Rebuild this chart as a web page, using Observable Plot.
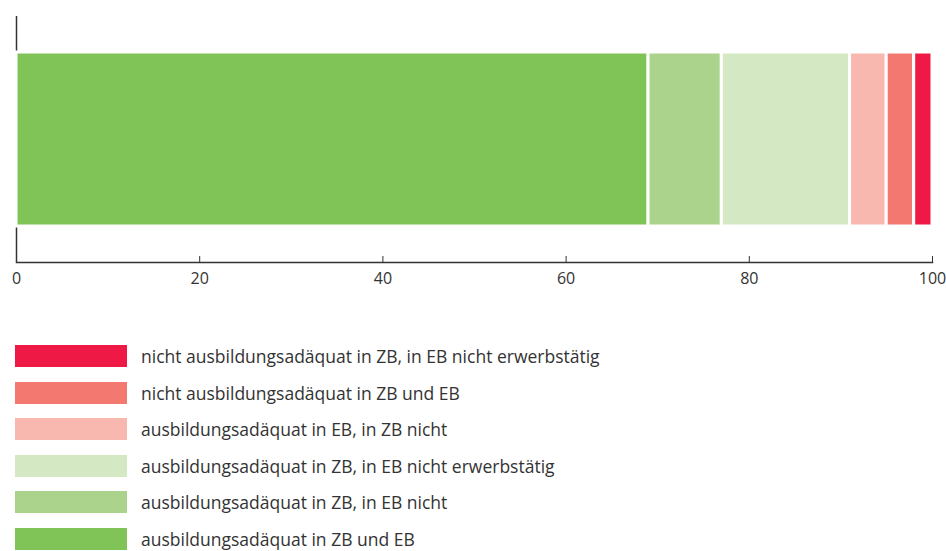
<!DOCTYPE html>
<html><head><meta charset="utf-8">
<script src="https://cdn.jsdelivr.net/npm/d3@7"></script>
<script src="https://cdn.jsdelivr.net/npm/@observablehq/plot@0.6"></script>
<style>
body{margin:0;background:#fff;font-family:"Open Sans",sans-serif;color:#333;}
#legend{margin-top:38px;}
.row{display:flex;align-items:center;height:36.5px;}
.row .sw{width:112px;height:22px;margin-left:15px;margin-right:14px;flex:none;}
.row .lb{font-size:17.5px;color:#333;line-height:22px;}
</style></head>
<body><div id="chart"></div><div id="legend"></div>
<script>
const categories = [
  "ausbildungsadäquat in ZB und EB",
  "ausbildungsadäquat in ZB, in EB nicht",
  "ausbildungsadäquat in ZB, in EB nicht erwerbstätig",
  "ausbildungsadäquat in EB, in ZB nicht",
  "nicht ausbildungsadäquat in ZB und EB",
  "nicht ausbildungsadäquat in ZB, in EB nicht erwerbstätig"
];
const values = [69, 8, 14, 4, 3, 2];
const colors = ["#80c457", "#abd38c", "#d3e8c3", "#f9b8af", "#f37870", "#ee1944"];
const xTicks = [0, 20, 40, 60, 80, 100];

const data = categories.map((c, i) => ({cat: c, value: values[i], row: ""}));

const chart = Plot.plot({
  width: 946, height: 300,
  marginLeft: 16, marginRight: 14, marginTop: 16, marginBottom: 38,
  style: {fontFamily: "Open Sans, sans-serif", fontSize: "16px", color: "#333"},
  x: {domain: [0, 100]},
  y: {domain: [""], padding: 0.17, axis: null},
  color: {domain: categories, range: colors},
  marks: [
    Plot.ruleX([0], {stroke: "#333", strokeWidth: 1.5}),
    Plot.barX(data, Plot.stackX({x: "value", y: "row", fill: "cat", stroke: "white", strokeWidth: 3, order: null})),
    Plot.frame({anchor: "bottom", stroke: "#333", strokeWidth: 1.5}),
    Plot.axisX({ticks: xTicks, tickSize: -6, tickPadding: 16, label: null, stroke: "#333", fill: "#333"})
  ]
});
document.getElementById("chart").append(chart);

const legend = document.getElementById("legend");
for (let i = categories.length - 1; i >= 0; i--) {
  const row = document.createElement("div");
  row.className = "row";
  const sw = document.createElement("div");
  sw.className = "sw"; sw.style.background = colors[i];
  const lb = document.createElement("span");
  lb.className = "lb"; lb.textContent = categories[i];
  row.append(sw, lb);
  legend.append(row);
}
</script></body></html>
